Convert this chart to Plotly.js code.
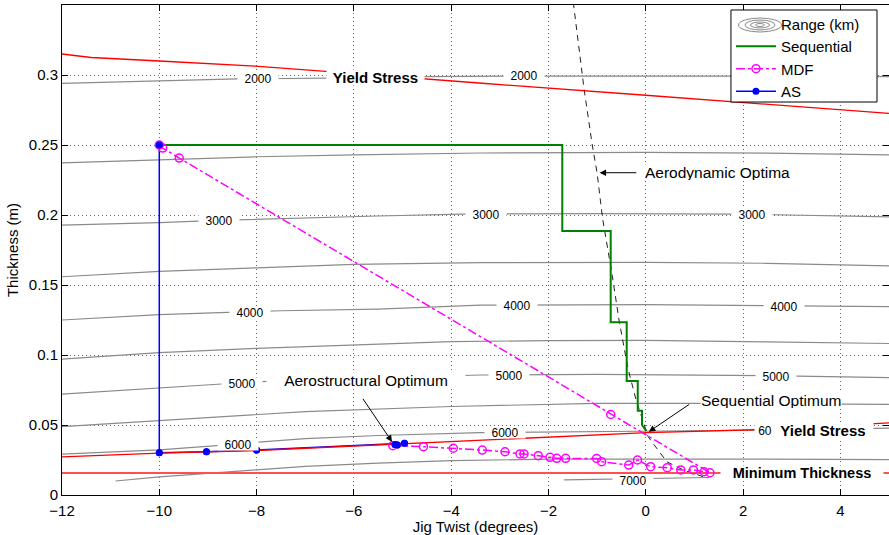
<!DOCTYPE html>
<html><head><meta charset="utf-8">
<script src="https://cdn.plot.ly/plotly-3.0.1.min.js"></script>
<style>html,body{margin:0;padding:0;background:#fff}#chart{width:889px;height:535px}</style>
</head><body><div id="chart"></div>
<script>
// ---- Range contour lines (km) ----
const c2000X = [-12, -10, -8.4, -6, -4.5, -2.5, 0, 2.5, 5];
const c2000Y = [0.294, 0.2958, 0.2972, 0.298, 0.2988, 0.2992, 0.2994, 0.2992, 0.2988];
const c2500X = [-12, -10, -8, -6, -3.4, 0, 2.5, 5];
const c2500Y = [0.2373, 0.2395, 0.2416, 0.243, 0.2443, 0.2448, 0.2442, 0.243];
const c3000X = [-12, -10, -8.8, -7.5, -5.5, -3.8, -1, 2, 4, 5];
const c3000Y = [0.1928, 0.1945, 0.1962, 0.1975, 0.1993, 0.2006, 0.201, 0.2006, 0.1995, 0.1986];
const c3500X = [-12, -10, -8, -6, -3.4, 0, 2.5, 5];
const c3500Y = [0.1559, 0.1598, 0.1623, 0.1647, 0.166, 0.1662, 0.1655, 0.1637];
const c4000X = [-12, -10, -8.6, -7.5, -5.5, -3.4, 0, 2.5, 5];
const c4000Y = [0.125, 0.1288, 0.1305, 0.1316, 0.1328, 0.1356, 0.136, 0.1352, 0.1345];
const c4500X = [-12, -10, -8, -6, -4, -2, 0, 2.5, 5];
const c4500Y = [0.0971, 0.1017, 0.1047, 0.1072, 0.1095, 0.1103, 0.1104, 0.1094, 0.1082];
const c5000X = [-12, -10, -8.8, -7.7, -5.5, -3.4, -1, 2.5, 5];
const c5000Y = [0.072, 0.0767, 0.0791, 0.0814, 0.0838, 0.0857, 0.0862, 0.0853, 0.0838];
const c5500X = [-12, -10, -8, -7, -4, -1, 2, 5];
const c5500Y = [0.0488, 0.0531, 0.0571, 0.0596, 0.0632, 0.0655, 0.0654, 0.0648];
const c6000X = [-12, -10, -8.4, -7.9, -7, -5.5, -3.4, -1, 1, 3, 5];
const c6000Y = [0.0292, 0.0323, 0.0364, 0.038, 0.0403, 0.0425, 0.0445, 0.0455, 0.0459, 0.0465, 0.0477];
const c6500X = [-10.9, -10, -8, -7, -5.5, -4, -2, 0, 2.5, 5];
const c6500Y = [0.01, 0.0129, 0.018, 0.0205, 0.0228, 0.0245, 0.0256, 0.0258, 0.0256, 0.0252];
const c7000X = [-1.68, -1, 0, 1, 1.3];
const c7000Y = [0.0108, 0.0112, 0.0118, 0.0123, 0.0125];

// contour labels (the last 6000 label is partly hidden in the original: only "60" shows)
const labText = ['2000','2000','3000','3000','3000','4000','4000','4000','5000','5000','5000','6000','6000','60','7000'];
const labX = [-7.97, -2.50, -8.78, -3.29, 2.19, -8.13, -2.64, 2.84, -8.30, -2.81, 2.67, -8.38, -2.89, 2.45, -0.27];
const labY = [0.2974, 0.2993, 0.1964, 0.2005, 0.2005, 0.1305, 0.1357, 0.1345, 0.0798, 0.0857, 0.085, 0.0364, 0.0445, 0.0464, 0.0107];
const labW = [40, 40, 40, 40, 40, 40, 40, 40, 40, 40, 40, 40, 40, 20, 40];

// ---- constraints ----
const yieldUpX = [-12, -11.4, -10, -8.03, -6.51, -4.53, -3.36, -0.07, 2.0, 5];
const yieldUpY = [0.3150, 0.3125, 0.3100, 0.3064, 0.3024, 0.2969, 0.2941, 0.2857, 0.2802, 0.2726];
const yieldLowX = [-12, -10, -8, -5.19, -3.7, 0.02, 2.55, 3.6, 4.8, 5];
const yieldLowY = [0.0273, 0.0299, 0.0318, 0.0363, 0.0383, 0.0445, 0.0469, 0.049, 0.0512, 0.0515];
const minThickX = [-12, 5];
const minThickY = [0.0158, 0.0158];

// ---- aerodynamic optima ----
const aeroX = [-1.49, -1.34, -1.27, -1.10, -1.00, -0.89, -0.84, -0.69, -0.55, -0.37, -0.20, -0.02, 0.05, 0.43, 0.77, 1.28];
const aeroY = [0.352, 0.311, 0.2905, 0.25, 0.23, 0.198, 0.188, 0.157, 0.125, 0.091, 0.068, 0.0488, 0.0416, 0.0238, 0.0179, 0.0119];

// ---- optimisation paths ----
const seqX = [-10, -1.716, -1.716, -0.721, -0.721, -0.392, -0.392, -0.165, -0.165, -0.077, -0.077, 0.01];
const seqY = [0.25, 0.25, 0.1886, 0.1886, 0.1234, 0.1234, 0.0814, 0.0814, 0.0602, 0.0602, 0.050, 0.0457];

const mdfX = [-10, -9.93, -9.59, -0.72, 1.32, 1.20, 0.98, 0.72, 0.44, 0.10, -0.17, -0.35, -0.907, -1.009, -1.646, -1.83, -1.969, -2.21, -2.503, -2.585, -2.894, -3.36, -3.956, -4.57, -5.2];
const mdfY = [0.25, 0.2478, 0.2407, 0.0575, 0.0159, 0.0166, 0.0179, 0.0179, 0.0195, 0.0202, 0.025, 0.0214, 0.0238, 0.0261, 0.0262, 0.0262, 0.0269, 0.0281, 0.0293, 0.0293, 0.0309, 0.0321, 0.0334, 0.0345, 0.0352];

const asX = [-10, -10, -9.03, -8.0, -4.96, -5.155, -5.107];
const asY = [0.25, 0.0302, 0.0309, 0.0321, 0.0369, 0.0360, 0.0357];

// ---- text ----
const seriesNames = ['Range (km)', 'Sequential', 'MDF', 'AS'];
const xTitle = 'Jig Twist (degrees)';
const yTitle = 'Thickness (m)';

const FONT = 'Liberation Sans, Arial, Helvetica, sans-serif';
const GRAY = '#8a8a8a';

const contours = [[c2000X,c2000Y],[c2500X,c2500Y],[c3000X,c3000Y],[c3500X,c3500Y],[c4000X,c4000Y],
  [c4500X,c4500Y],[c5000X,c5000Y],[c5500X,c5500Y],[c6000X,c6000Y],[c6500X,c6500Y],[c7000X,c7000Y]];

const data = [];
data.push({x:[null], y:[null], mode:'lines', name:seriesNames[0], legendrank:1,
  line:{color:'rgba(0,0,0,0)', width:1}, hoverinfo:'skip'});
contours.forEach(c => data.push({x:c[0], y:c[1], mode:'lines', showlegend:false,
  line:{color:GRAY, width:1.2}, hoverinfo:'skip'}));
data.push({x:aeroX, y:aeroY, mode:'lines', showlegend:false, line:{color:'#222', width:1, dash:'6px,5px'}});
data.push({x:asX, y:asY, mode:'lines+markers', name:seriesNames[3], legendrank:4,
  line:{color:'#0000ff', width:1.5}, marker:{color:'#0000ff', size:7, symbol:'circle'}});
data.push({x:yieldUpX, y:yieldUpY, mode:'lines', showlegend:false, line:{color:'#ff0000', width:1.3}});
data.push({x:yieldLowX, y:yieldLowY, mode:'lines', showlegend:false, line:{color:'#ff0000', width:1.3}});
data.push({x:minThickX, y:minThickY, mode:'lines', showlegend:false, line:{color:'#ff5050', width:2}});
data.push({x:seqX, y:seqY, mode:'lines', name:seriesNames[1], legendrank:2, line:{color:'#008000', width:2}});
data.push({x:mdfX, y:mdfY, mode:'lines+markers', name:seriesNames[2], legendrank:3,
  line:{color:'#ff00ff', width:1.5, dash:'dashdot'},
  marker:{symbol:'circle-open', color:'#ff00ff', size:8, line:{width:1.5, color:'#ff00ff'}}});
data.push({x:asX, y:asY, mode:'markers', showlegend:false, marker:{color:'#0000ff', size:7}});

const annotations = [];
labText.forEach((t, i) => annotations.push({x:labX[i], y:labY[i], text:t, showarrow:false,
  font:{family:FONT, size:12, color:'#000'}, bgcolor:'#fff', width:labW[i], height:11, borderpad:0}));

function txt(x, y, t, opts) {
  return Object.assign({x:x, y:y, text:t, showarrow:false, font:{family:FONT, size:15.5, color:'#000'},
    bgcolor:'#fff', borderpad:0}, opts || {});
}
annotations.push(txt(-5.566, 0.2981, '<b>Yield Stress</b>', {font:{family:FONT, size:15, color:'#000'}, width:97, height:15}));
annotations.push(txt(3.64, 0.0464, '<b>Yield Stress</b>', {font:{family:FONT, size:15, color:'#000'}, width:100, height:15}));
annotations.push(txt(3.22, 0.0155, '<b>Minimum Thickness</b>', {font:{family:FONT, size:14.5, color:'#000'}, width:162, height:14}));
annotations.push(txt(1.474, 0.2307, 'Aerodynamic Optima', {height:16}));
annotations.push(txt(-5.757, 0.0821, 'Aerostructural Optimum', {width:198, height:16}));
annotations.push(txt(2.57, 0.0679, 'Sequential Optimum', {height:16}));

function arrow(hx, hy, tx, ty) {
  return {x:hx, y:hy, ax:tx, ay:ty, axref:'x', ayref:'y', text:'', showarrow:true,
    arrowhead:2, arrowsize:1.3, arrowwidth:1, arrowcolor:'#000', standoff:0, startstandoff:0};
}
annotations.push(arrow(-0.95, 0.2302, -0.163, 0.2302));
annotations.push(arrow(-5.216, 0.038, -5.833, 0.0697));
annotations.push(arrow(0.064, 0.0452, 0.922, 0.0654));

const shapes = [
  {type:'rect', xref:'paper', yref:'paper', x0:0.8089, x1:0.9855, y0:0.802, y1:0.9898,
   fillcolor:'#fff', line:{color:'#000', width:1}, layer:'above'}
];
[[21.5,7],[15,5],[9.5,3],[4.5,1.5]].forEach(r => shapes.push({type:'circle', xref:'paper', yref:'paper',
  xsizemode:'pixel', ysizemode:'pixel', xanchor:(760-62)/827, yanchor:(495-25)/490,
  x0:-r[0], x1:r[0], y0:-r[1], y1:r[1], line:{color:GRAY, width:1}, layer:'above'}));

const axisCommon = {
  showline:true, linecolor:'#000', linewidth:1, mirror:'ticks', ticks:'inside', ticklen:6,
  tickcolor:'#000', tickwidth:1, showgrid:true, gridcolor:'#666', griddash:'1px,3px', gridwidth:1,
  zeroline:false, tickfont:{family:FONT, size:15, color:'#000'}
};

const layout = {
  width:889, height:535, margin:{l:62, r:0, t:5, b:40},
  paper_bgcolor:'#fff', plot_bgcolor:'#fff',
  font:{family:FONT, size:15, color:'#000'},
  xaxis:Object.assign({}, axisCommon, {range:[-12,5], tick0:-12, dtick:2, ticklabelstandoff:2,
    title:{text:xTitle, font:{family:FONT, size:15}, standoff:0}}),
  yaxis:Object.assign({}, axisCommon, {range:[0,0.35], tick0:0, dtick:0.05,
    title:{text:yTitle, font:{family:FONT, size:15}, standoff:6}}),
  showlegend:true,
  legend:{x:0.8089, xanchor:'left', y:0.995, yanchor:'top', bgcolor:'rgba(0,0,0,0)', borderwidth:0,
    font:{family:FONT, size:15, color:'#000'}, itemwidth:40, traceorder:'normal'},
  annotations:annotations, shapes:shapes
};

Plotly.newPlot('chart', data, layout, {displayModeBar:false, staticPlot:true});
</script></body></html>
